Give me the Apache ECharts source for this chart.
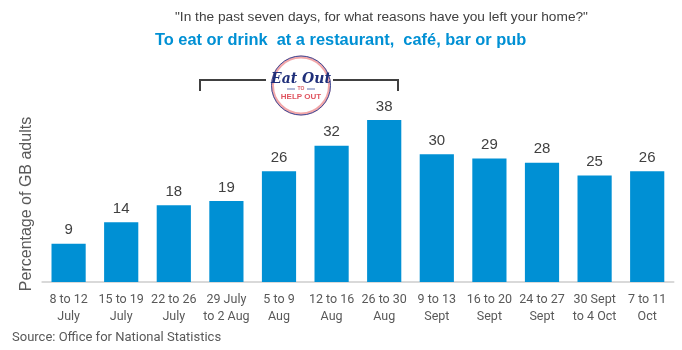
<!DOCTYPE html>
<html><head><meta charset="utf-8">
<script src="https://cdn.jsdelivr.net/npm/echarts@6/dist/echarts.min.js"></script>
<style>html,body{margin:0;padding:0;background:#fff}#c{width:682px;height:350px}</style>
</head><body><div id="c"></div>
<script>
const categories = ['8 to 12\nJuly','15 to 19\nJuly','22 to 26\nJuly','29 July\nto 2 Aug','5 to 9\nAug','12 to 16\nAug','26 to 30\nAug','9 to 13\nSept','16 to 20\nSept','24 to 27\nSept','30 Sept\nto 4 Oct','7 to 11\nOct'];
const values = [9,14,18,19,26,32,38,30,29,28,25,26];
const titleText = '"In the past seven days, for what reasons have you left your home?"';
const subtitleText = 'To eat or drink  at a restaurant,  café, bar or pub';
const yName = 'Percentage of GB adults';
const sourceText = 'Source: Office for National Statistics';

const chart = echarts.init(document.getElementById('c'), null, {renderer:'canvas'});
const narrow = '"Liberation Sans Narrow","Arial Narrow",Roboto,Arial,sans-serif';
chart.setOption({
  animation:false,
  grid:{left:42.3,right:8.5,top:111.6,bottom:68,containLabel:false},
  xAxis:{type:'category',data:categories,
    axisLine:{lineStyle:{color:'#d9d9d9',width:2}},
    axisTick:{show:false},
    axisLabel:{interval:0,color:'#595959',fontSize:12.5,fontFamily:narrow,lineHeight:17,margin:9}
  },
  yAxis:{type:'value',min:0,max:40,show:false},
  series:[{type:'bar',data:values,barWidth:'65%',
    itemStyle:{color:'#0090d4'},
    label:{show:true,position:'top',distance:6,color:'#404040',fontSize:15,fontFamily:'Liberation Sans, Arial, sans-serif'}
  }],
  graphic:[
    {type:'text',left:175,top:10,style:{text:titleText,fill:'#404040',font:'13.7px "Liberation Sans", Arial, sans-serif'}},
    {type:'text',left:155,top:32,style:{text:subtitleText,fill:'#0090d4',font:'bold 16.4px "Liberation Sans", Arial, sans-serif'}},
    {type:'text',left:12,top:331,style:{text:sourceText,fill:'#595959',font:'13px '+narrow}},
    {type:'text',x:27,y:204,rotation:Math.PI/2,style:{text:yName,fill:'#595959',font:'16px "Liberation Sans", Arial, sans-serif',textAlign:'center',textVerticalAlign:'middle'}},
    {type:'polyline',shape:{points:[[200,91],[200,80],[266,80]]},style:{stroke:'#404040',lineWidth:2,fill:null}},
    {type:'polyline',shape:{points:[[333,80],[398,80],[398,91]]},style:{stroke:'#404040',lineWidth:2,fill:null}},
    {type:'circle',shape:{cx:301,cy:85.5,r:28.5},style:{fill:'#fff',stroke:'#f2a7a9',lineWidth:3}},
    {type:'circle',shape:{cx:301,cy:85.5,r:29.5},style:{fill:null,stroke:'#3a4f9c',lineWidth:1}},
    {type:'text',x:301,y:79,style:{text:'Eat Out',fill:'#1f2f7a',font:'italic bold 14px "DejaVu Serif", serif',textAlign:'center',textVerticalAlign:'middle'}},
    {type:'text',x:301,y:89,style:{text:'TO',fill:'#d9626a',font:'bold 5px "Liberation Sans", Arial, sans-serif',textAlign:'center',textVerticalAlign:'middle'}},
    {type:'line',shape:{x1:287,y1:89,x2:295,y2:89},style:{stroke:'#3a4f9c',lineWidth:0.8}},
    {type:'line',shape:{x1:307,y1:89,x2:315,y2:89},style:{stroke:'#3a4f9c',lineWidth:0.8}},
    {type:'text',x:301,y:97,style:{text:'HELP OUT',fill:'#e05560',font:'bold 8px "Liberation Sans", Arial, sans-serif',textAlign:'center',textVerticalAlign:'middle'}}
  ]
});
</script></body></html>
